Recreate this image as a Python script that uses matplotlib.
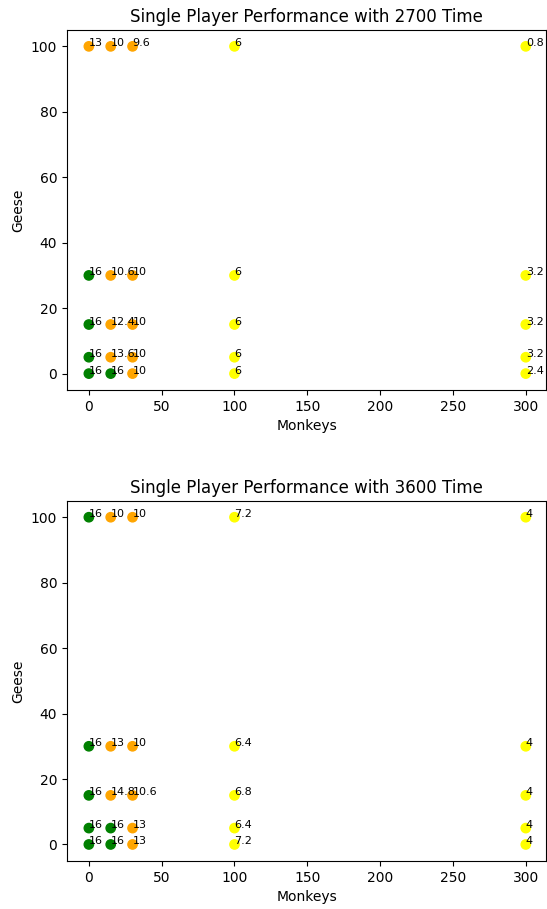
import matplotlib
matplotlib.use("Agg")
import matplotlib.pyplot as plt

monkeys = [0, 15, 30, 100, 300]
geese = [0, 5, 15, 30, 100]

# scores[row for geese][column for monkeys]
scores_2700 = [
    [16, 16, 10, 6, 2.4],
    [16, 13.6, 10, 6, 3.2],
    [16, 12.4, 10, 6, 3.2],
    [16, 10.6, 10, 6, 3.2],
    [13, 10, 9.6, 6, 0.8],
]
scores_3600 = [
    [16, 16, 13, 7.2, 4],
    [16, 16, 13, 6.4, 4],
    [16, 14.8, 10.6, 6.8, 4],
    [16, 13, 10, 6.4, 4],
    [16, 10, 10, 7.2, 4],
]
times = [2700, 3600]


def score_color(v):
    if v >= 16:
        return "green"
    if v >= 8:
        return "orange"
    return "yellow"


def draw_panel(ax, scores, time):
    xs, ys, cs, labels = [], [], [], []
    for gi, g in enumerate(geese):
        for mi, m in enumerate(monkeys):
            v = scores[gi][mi]
            xs.append(m)
            ys.append(g)
            cs.append(score_color(v))
            labels.append(v)
    ax.scatter(xs, ys, c=cs, s=45)
    for x, y, v in zip(xs, ys, labels):
        ax.annotate("%g" % v, (x, y), fontsize=8)
    ax.set_title("Single Player Performance with %d Time" % time, fontsize=12)
    ax.set_xlabel("Monkeys")
    ax.set_ylabel("Geese")
    ax.set_xlim(-15, 314)


fig = plt.figure(figsize=(5.47, 9.09), dpi=100)
ax1 = fig.add_axes([0.1225, 0.571, 0.876, 0.396])
ax2 = fig.add_axes([0.1225, 0.053, 0.876, 0.396])
draw_panel(ax1, scores_2700, times[0])
draw_panel(ax2, scores_3600, times[1])

fig.savefig("out.png", dpi=100)
